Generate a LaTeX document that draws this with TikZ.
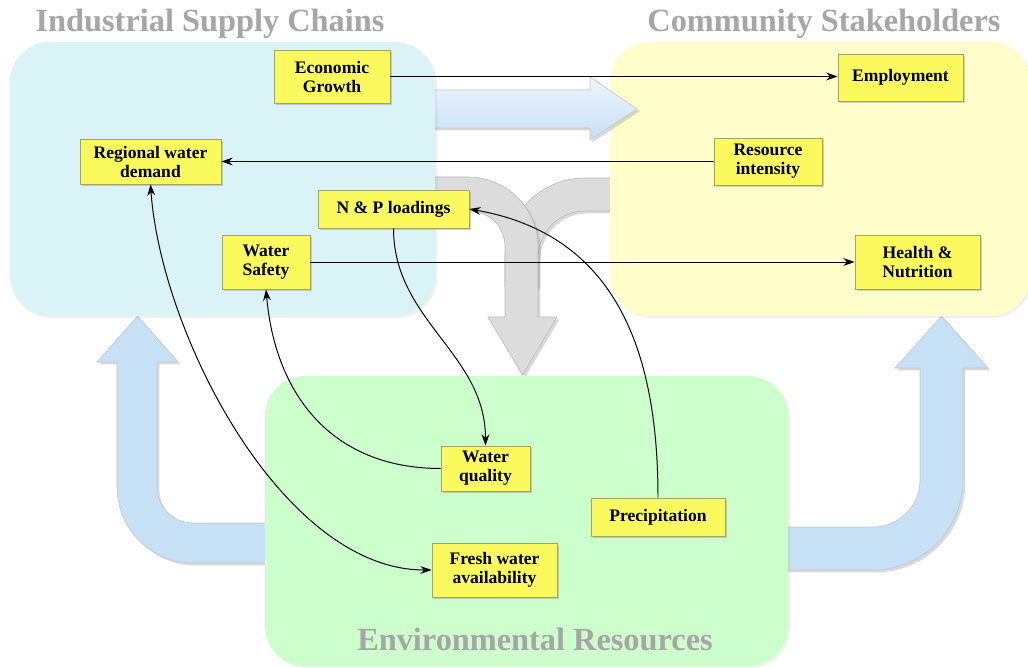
\documentclass[tikz,border=0pt]{standalone}
\usepackage{fontspec}
\setmainfont{Liberation Serif}
\usetikzlibrary{arrows, arrows.meta}
\usetikzlibrary{shadows}

\definecolor{paneblue}{RGB}{218,243,247}
\definecolor{paneyellow}{RGB}{255,253,202}
\definecolor{panegreen}{RGB}{204,255,204}
\definecolor{flowblue}{RGB}{198,224,246}
\definecolor{flowgrey}{RGB}{220,220,220}
\definecolor{boxfill}{RGB}{250,250,95}
\definecolor{boxedge}{RGB}{165,165,95}
\definecolor{titlegrey}{RGB}{166,166,166}

\tikzset{
  panel/.style={rounded corners=1cm, drop shadow={shadow xshift=0.5mm, shadow yshift=-0.5mm, opacity=0.12}},
  flow/.style={fill=flowblue, draw=gray!45, line width=0.4pt, drop shadow={shadow xshift=0.6mm, shadow yshift=-0.6mm, opacity=0.3}},
  turn/.style={fill=flowgrey, draw=gray!55, line width=0.4pt, drop shadow={shadow xshift=0.6mm, shadow yshift=-0.6mm, opacity=0.3}},
  factor/.style={rectangle, draw=boxedge, fill=boxfill, line width=0.5pt, align=center, inner sep=1pt,
    font=\fontsize{12.5}{13.5}\selectfont\bfseries, drop shadow={shadow xshift=0.5mm, shadow yshift=-0.6mm, opacity=0.35}},
  heading/.style={font=\fontsize{23}{25}\selectfont\bfseries, text=titlegrey},
  link/.style={->, >={Stealth[length=8pt, width=5.5pt, inset=2.5pt]}, line width=0.7pt},
}

\begin{document}
\begin{tikzpicture}[x=0.025cm, y=0.025cm]
  \useasboundingbox (0,0) rectangle (1028,667);

  % grey turn arrow and right U arrow (ends hidden under panels)
  \filldraw[turn] (630,489) -- (585,489) arc[start angle=90, end angle=180, radius=2cm] -- (505,380) -- (538,380) -- (538,409) arc[start angle=180, end angle=90, radius=1.175cm] -- (630,456) -- cycle;
  \filldraw[turn] (420,490) -- (468,490) arc[start angle=90, end angle=0, radius=1.75cm] -- (538,350) -- (557,350) -- (522.5,292) -- (488,350) -- (505,350) -- (505,420) arc[start angle=0, end angle=90, radius=0.925cm] -- (420,457) -- cycle;
  \filldraw[flow] (770,140) -- (873,140) arc[start angle=-90, end angle=0, radius=1.175cm] -- (920,299) -- (895,299) -- (941.5,351) -- (988,299) -- (963,299) -- (963,187) arc[start angle=0, end angle=-90, radius=2.25cm] -- (770,97) -- cycle;

  \fill[paneyellow, panel] (610,351) rectangle (1030,625);

  \filldraw[flow, top color=flowblue!30!white, bottom color=flowblue] (420,577) -- (590,577) -- (590,590) -- (637,558) -- (590,527) -- (590,539) -- (420,539) -- cycle;
  \filldraw[flow] (285,144) -- (193,144) arc[start angle=270, end angle=180, radius=0.9cm] -- (157,305) -- (178,305) -- (137.5,351) -- (97,305) -- (117,305) -- (117,180) arc[start angle=180, end angle=270, radius=1.9cm] -- (285,104) -- cycle;

  \fill[paneblue, panel] (10,351) rectangle (435,625);
  \fill[panegreen, panel] (265,1) rectangle (788,291);

  \node[heading] (supplytitle) at (210,643) {Industrial Supply Chains};
  \node[heading] (communitytitle) at (824,643) {Community Stakeholders};
  \node[heading] (envtitle) at (535,28) {Environmental Resources};

  \node[factor, minimum width=2.9cm, minimum height=1.325cm] (econ) at (332,590.5) {Economic\\Growth};
  \node[factor, minimum width=3.525cm, minimum height=1.125cm] (demand) at (150.5,505.5) {Regional water\\demand};
  \node[factor, minimum width=3.775cm, minimum height=0.95cm] (loads) at (393.5,458) {N \& P loadings};
  \node[factor, minimum width=2.2cm, minimum height=1.35cm] (safety) at (266,405) {Water\\Safety};
  \node[factor, minimum width=3.125cm, minimum height=1.175cm] (employ) at (900.5,589.5) {Employment};
  \node[factor, minimum width=2.7cm, minimum height=1.175cm] (intensity) at (768,505.5) {Resource\\intensity};
  \node[factor, minimum width=3.125cm, minimum height=1.35cm] (health) at (917.5,405) {Health \&\\Nutrition};
  \node[factor, minimum width=2.225cm, minimum height=1.125cm] (quality) at (485.5,198.5) {Water\\quality};
  \node[factor, minimum width=3.125cm, minimum height=1.35cm] (fresh) at (494.5,97) {Fresh water\\availability};
  \node[factor, minimum width=3.35cm, minimum height=0.95cm] (precip) at (658,150) {Precipitation};

  \draw[link] (econ.east) -- (econ.east -| employ.west);
  \draw[link] (intensity.west) -- (intensity.west -| demand.east);
  \draw[link] (safety.east) -- (safety.east -| health.west);
  \draw[link] (loads.south) to[out=-90, in=90] (quality.north);
  \draw[link] (quality.west) to[out=180, in=-85, looseness=1.1] (safety.south);
  \draw[link, <->] (demand.south) to[out=-86, in=180, looseness=0.8] (fresh.west);
  \draw[link] (precip.north) to[out=90, in=-10, looseness=1.1] (loads.east);
\end{tikzpicture}
\end{document}
